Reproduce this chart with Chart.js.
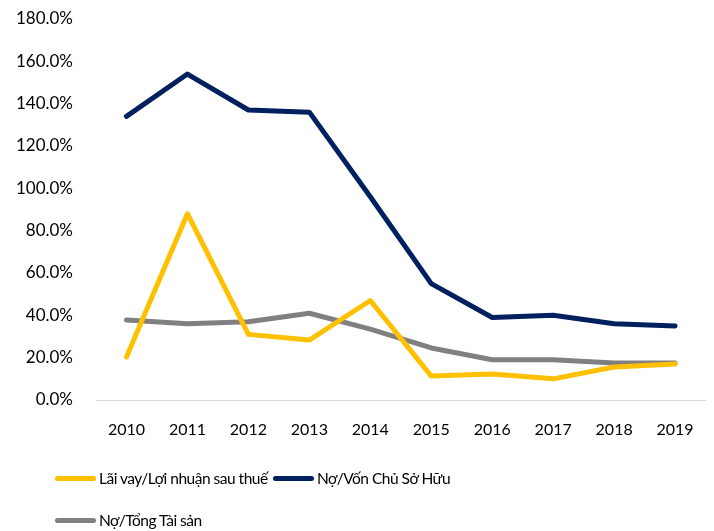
<!DOCTYPE html>
<html>
<head>
<meta charset="utf-8">
<script src="https://cdn.jsdelivr.net/npm/chart.js@4/dist/chart.umd.min.js"></script>
<style>
    html, body { margin: 0; padding: 0; background: #fff; }
    #wrap { position: relative; width: 714px; height: 531px; }
    #legend { position: absolute; left: 0; top: 0; width: 714px; height: 531px; pointer-events: none;
              font-family: Lato, "Open Sans", sans-serif; font-size: 15.5px; letter-spacing: -0.5px; color: #000; }
    .legend-item { position: absolute; display: flex; align-items: center; white-space: nowrap; }
    .legend-line { display: inline-block; width: 41px; height: 5px; border-radius: 3px; margin-right: 3px; }
</style>
</head>
<body>
<div id="wrap">
    <canvas id="chart" width="714" height="531"></canvas>
    <div id="legend"></div>
</div>
<script>
// Nam va cac chi so (%)
const years = ['2010', '2011', '2012', '2013', '2014', '2015', '2016', '2017', '2018', '2019'];
const laiVayLoiNhuan = [20.3, 88, 31, 28.3, 47, 11.3, 12.3, 10, 15.6, 17];
const noVonChuSoHuu = [134, 154, 137, 136, 96, 55, 39, 40, 36, 35];
const noTongTaiSan = [37.8, 36, 37, 41, 33.5, 24.6, 19, 19, 17.5, 17.5];

const seriesNames = ['Lãi vay/Lợi nhuận sau thuế', 'Nợ/Vốn Chủ Sở Hữu', 'Nợ/Tổng Tài sản'];
const seriesColors = ['#FFC000', '#002060', '#808080'];

const fontFamily = 'Lato, "Open Sans", sans-serif';

const datasets = [laiVayLoiNhuan, noVonChuSoHuu, noTongTaiSan].map((values, i) => ({
    label: seriesNames[i],
    data: values,
    borderColor: seriesColors[i],
    backgroundColor: seriesColors[i],
    borderWidth: 5,
    pointRadius: 0,
    tension: 0,
    borderCapStyle: 'round',
    borderJoinStyle: 'round'
}));

new Chart(document.getElementById('chart'), {
    type: 'line',
    data: { labels: years, datasets: datasets },
    options: {
        responsive: false,
        animation: false,
        layout: { padding: { top: 19, right: 7, left: 0, bottom: 0 } },
        plugins: {
            legend: { display: false },
            tooltip: { enabled: false }
        },
        scales: {
            x: {
                offset: true,
                grid: { display: false, drawTicks: false },
                border: { display: true, color: '#d9d9d9', width: 1 },
                ticks: { color: '#000', padding: 20, font: { family: fontFamily, size: 16 } },
                afterFit: scale => { scale.height = 131; }
            },
            y: {
                min: 0,
                max: 180,
                grid: { display: false, drawTicks: false },
                border: { display: false },
                ticks: {
                    stepSize: 20,
                    color: '#000',
                    padding: 23,
                    font: { family: fontFamily, size: 17 },
                    callback: v => v.toFixed(1) + '%'
                },
                afterFit: scale => {
                    scale.width = 96;
                    scale.paddingTop = 0;
                    scale.paddingBottom = 0;
                }
            }
        }
    }
});

// Legend apne haath se banao
const legendPos = [
    { left: 55, top: 469 },
    { left: 273, top: 469 },
    { left: 55, top: 511 }
];
const legendBox = document.getElementById('legend');
seriesNames.forEach((name, i) => {
    const item = document.createElement('div');
    item.className = 'legend-item';
    item.style.left = legendPos[i].left + 'px';
    item.style.top = legendPos[i].top + 'px';
    item.innerHTML = `<span class="legend-line" style="background:${seriesColors[i]}"></span><span>${name}</span>`;
    legendBox.appendChild(item);
});
</script>
</body>
</html>
